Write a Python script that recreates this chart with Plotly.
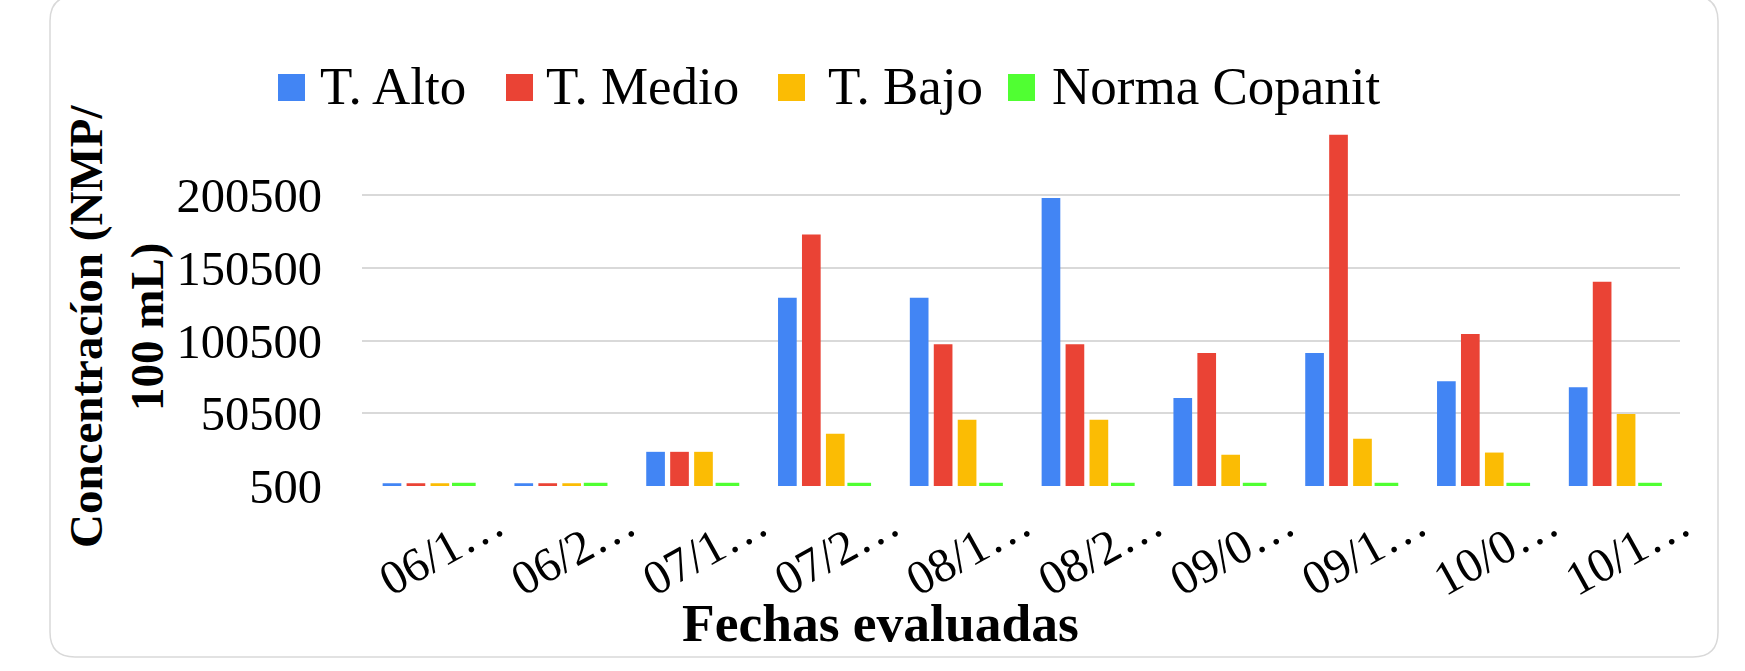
import plotly.graph_objects as go

# ---- data ----
fechas = ["06/1\u2026", "06/2\u2026", "07/1\u2026", "07/2\u2026", "08/1\u2026",
          "08/2\u2026", "09/0\u2026", "09/1\u2026", "10/0\u2026", "10/1\u2026"]
t_alto = [2400, 2400, 24000, 130000, 130000, 198500, 61000, 92000, 72500, 68500]
t_medio = [2400, 2400, 24000, 173500, 98000, 98000, 92000, 242000, 105000, 141000]
t_bajo = [2400, 2400, 24000, 36500, 46000, 46000, 22000, 33000, 23500, 50000]
norma_copanit = [1000, 1000, 1000, 1000, 1000, 1000, 1000, 1000, 1000, 1000]
series_names = ["T. Alto", "T. Medio", "T. Bajo", "Norma Copanit"]
y_ticks = [500, 50500, 100500, 150500, 200500]

colors = ["#4285F4", "#EA4335", "#FBBC04", "#50FF32"]

W, H = 1745, 671
ML, MR, MT, MB = 362, 65, 127, 185
PW, PH = W - ML - MR, H - MT - MB
FONT = "Liberation Serif"


def px(x):
    return (x - ML) / PW


def py(y):
    return (H - MB - y) / PH


fig = go.Figure()
for name, vals, col in zip(series_names, [t_alto, t_medio, t_bajo, norma_copanit], colors):
    is_norm = name == "Norma Copanit"
    fig.add_trace(go.Bar(
        x=fechas, y=vals, name=name,
        marker=dict(color=col, line=dict(color=col, width=5 if is_norm else 0)),
        cliponaxis=False, showlegend=False,
    ))

shapes = []
# card with rounded corners
cx0, cx1, cy0, cy1, r = 50, 1718, -4, 657, 25
rx, ry = r / PW, r / PH
X0, X1, Y0, Y1 = px(cx0), px(cx1), py(cy0), py(cy1)
path = (f"M{X0 + rx},{Y0} L{X1 - rx},{Y0} Q{X1},{Y0} {X1},{Y0 - ry} "
        f"L{X1},{Y1 + ry} Q{X1},{Y1} {X1 - rx},{Y1} L{X0 + rx},{Y1} "
        f"Q{X0},{Y1} {X0},{Y1 + ry} L{X0},{Y0 - ry} Q{X0},{Y0} {X0 + rx},{Y0} Z")
shapes.append(dict(type="path", xref="paper", yref="paper", path=path,
                   line=dict(color="#d9d9d9", width=1.5), fillcolor="rgba(0,0,0,0)", layer="below"))

# manual legend
leg_sq_x = [278, 506, 778, 1008]
leg_txt_x = [317.5, 543.5, 826, 1050]
annotations = []
for i, name in enumerate(series_names):
    x0 = leg_sq_x[i]
    shapes.append(dict(type="rect", xref="paper", yref="paper",
                       x0=px(x0), x1=px(x0 + 27), y0=py(101), y1=py(74),
                       fillcolor=colors[i], line=dict(width=0)))
    annotations.append(dict(text=name, x=px(leg_txt_x[i]), y=py(86), xref="paper", yref="paper",
                            xanchor="left", yanchor="middle", showarrow=False,
                            font=dict(family=FONT, size=53, color="black")))

annotations.append(dict(text="<b>Concentracíon (NMP/<br>100 mL)</b>", textangle=-90,
                        x=px(116), y=py(327), xref="paper", yref="paper",
                        xanchor="center", yanchor="middle", showarrow=False,
                        font=dict(family=FONT, size=47, color="black")))
annotations.append(dict(text="<b>Fechas evaluadas</b>",
                        x=px(880), y=py(623), xref="paper", yref="paper",
                        xanchor="center", yanchor="middle", showarrow=False,
                        font=dict(family=FONT, size=53.5, color="black")))

fig.update_layout(
    width=W, height=H,
    margin=dict(l=ML, r=MR, t=MT, b=MB, autoexpand=False),
    paper_bgcolor="white", plot_bgcolor="white",
    barmode="group", bargap=0.273, bargroupgap=0.22,
    font=dict(family=FONT, color="black"),
    shapes=shapes, annotations=annotations,
    showlegend=False,
)
fig.update_yaxes(range=[500, 247400], tickvals=y_ticks, ticktext=[str(v) for v in y_ticks],
                 showgrid=True, gridcolor="#d9d9d9", gridwidth=1.5, zeroline=False,
                 showline=False, ticks="", ticklabelstandoff=39,
                 tickfont=dict(family=FONT, size=48.5, color="black"))
fig.update_xaxes(tickangle=-29, showgrid=False, showline=False, ticks="",
                 ticklabelshift=68, ticklabelstandoff=0,
                 tickfont=dict(family=FONT, size=48, color="black"))

fig.write_html("out.html", config={"displayModeBar": False},
               post_script="document.body.style.margin='0';")
